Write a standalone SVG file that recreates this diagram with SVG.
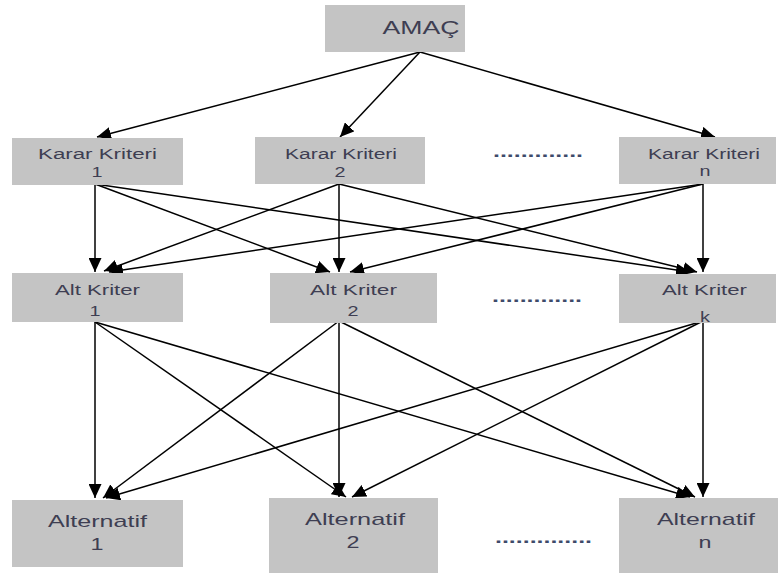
<svg xmlns="http://www.w3.org/2000/svg" width="782" height="579" viewBox="0 0 782 579">
  <style>
    .box { fill: #c4c4c4; }
    .lbl { font-family: "Liberation Sans", Arial, sans-serif; font-size: 15.5px; fill: #3e3e52; text-anchor: middle; }
    .big { font-size: 19px; }
    .alt { font-size: 17px; }
    .dots { font-family: "Liberation Sans", Arial, sans-serif; font-size: 17px; font-weight: bold; fill: #3e4a6a; }
    .edge { stroke: #000; stroke-width: 1.5; fill: none; marker-end: url(#arrow); }
  </style>
  <defs>
    <marker id="arrow" markerUnits="userSpaceOnUse" markerWidth="15" markerHeight="13" refX="14" refY="6.5" orient="auto">
      <path d="M0,0 L14,6.5 L0,13 Z" fill="#000"/>
    </marker>
  </defs>
  <rect width="782" height="579" fill="#fff"/>

  <!-- connectors -->
  <g id="connectors">
    <!-- goal to decision criteria -->
    <line class="edge" x1="420" y1="52" x2="97" y2="137"/>
    <line class="edge" x1="420" y1="52" x2="340" y2="137"/>
    <line class="edge" x1="420" y1="52" x2="715" y2="137"/>
    <!-- decision criteria to sub-criteria -->
    <line class="edge" x1="95" y1="184" x2="95" y2="272"/>
    <line class="edge" x1="95" y1="184" x2="330" y2="272"/>
    <line class="edge" x1="95" y1="184" x2="690" y2="272"/>
    <line class="edge" x1="339" y1="184" x2="104" y2="271"/>
    <line class="edge" x1="339" y1="184" x2="339" y2="272"/>
    <line class="edge" x1="339" y1="184" x2="697" y2="272"/>
    <line class="edge" x1="703" y1="184" x2="109" y2="272"/>
    <line class="edge" x1="703" y1="184" x2="350" y2="272"/>
    <line class="edge" x1="703" y1="184" x2="703" y2="272"/>
    <!-- sub-criteria to alternatives -->
    <line class="edge" x1="95" y1="322" x2="95" y2="498"/>
    <line class="edge" x1="95" y1="322" x2="346" y2="497"/>
    <line class="edge" x1="95" y1="322" x2="690" y2="497"/>
    <line class="edge" x1="339" y1="321" x2="103" y2="498"/>
    <line class="edge" x1="339" y1="321" x2="339" y2="497"/>
    <line class="edge" x1="339" y1="321" x2="695" y2="497"/>
    <line class="edge" x1="703" y1="321" x2="106" y2="498"/>
    <line class="edge" x1="703" y1="321" x2="352" y2="497"/>
    <line class="edge" x1="703" y1="321" x2="703" y2="497"/>
  </g>

  <g id="amac">
    <rect class="box" x="325" y="5" width="140" height="47"/>
    <text class="lbl big" x="421" y="34" textLength="77" lengthAdjust="spacingAndGlyphs">AMAÇ</text>
  </g>

  <g id="karar-kriteri-1">
    <rect class="box" x="12" y="138" width="171" height="47"/>
    <text class="lbl" x="97.5" y="159" textLength="119" lengthAdjust="spacingAndGlyphs">Karar Kriteri</text>
    <text class="lbl" x="97" y="177" textLength="11" lengthAdjust="spacingAndGlyphs">1</text>
  </g>
  <g id="karar-kriteri-2">
    <rect class="box" x="255" y="137" width="170" height="47"/>
    <text class="lbl" x="341" y="159" textLength="112" lengthAdjust="spacingAndGlyphs">Karar Kriteri</text>
    <text class="lbl" x="340" y="177" textLength="11" lengthAdjust="spacingAndGlyphs">2</text>
  </g>
  <g id="karar-kriteri-n">
    <rect class="box" x="619" y="137" width="157" height="47"/>
    <text class="lbl" x="704" y="159" textLength="112" lengthAdjust="spacingAndGlyphs">Karar Kriteri</text>
    <text class="lbl" x="705" y="176" textLength="11" lengthAdjust="spacingAndGlyphs">n</text>
  </g>
  <text class="dots" x="493" y="157" textLength="90" lengthAdjust="spacingAndGlyphs">.............</text>

  <g id="alt-kriter-1">
    <rect class="box" x="12" y="273" width="171" height="49"/>
    <text class="lbl" x="97.5" y="295" textLength="85" lengthAdjust="spacingAndGlyphs">Alt Kriter</text>
    <text class="lbl" x="95" y="316" textLength="11" lengthAdjust="spacingAndGlyphs">1</text>
  </g>
  <g id="alt-kriter-2">
    <rect class="box" x="270" y="273" width="167" height="50"/>
    <text class="lbl" x="353.5" y="295" textLength="87" lengthAdjust="spacingAndGlyphs">Alt Kriter</text>
    <text class="lbl" x="353" y="316" textLength="11" lengthAdjust="spacingAndGlyphs">2</text>
  </g>
  <g id="alt-kriter-k">
    <rect class="box" x="619" y="274" width="157" height="49"/>
    <text class="lbl" x="704.5" y="295" textLength="85" lengthAdjust="spacingAndGlyphs">Alt Kriter</text>
    <text class="lbl" x="705" y="322" textLength="10" lengthAdjust="spacingAndGlyphs">k</text>
  </g>
  <text class="dots" x="492" y="302" textLength="90" lengthAdjust="spacingAndGlyphs">.............</text>

  <g id="alternatif-1">
    <rect class="box" x="12" y="500" width="171" height="67"/>
    <text class="lbl alt" x="97.5" y="527" textLength="99" lengthAdjust="spacingAndGlyphs">Alternatif</text>
    <text class="lbl alt" x="97" y="550" textLength="13" lengthAdjust="spacingAndGlyphs">1</text>
  </g>
  <g id="alternatif-2">
    <rect class="box" x="269" y="498" width="169" height="75"/>
    <text class="lbl alt" x="355" y="525" textLength="100" lengthAdjust="spacingAndGlyphs">Alternatif</text>
    <text class="lbl alt" x="353" y="548" textLength="13" lengthAdjust="spacingAndGlyphs">2</text>
  </g>
  <g id="alternatif-n">
    <rect class="box" x="619" y="498" width="159" height="75"/>
    <text class="lbl alt" x="706" y="525" textLength="98" lengthAdjust="spacingAndGlyphs">Alternatif</text>
    <text class="lbl alt" x="705" y="548" textLength="13" lengthAdjust="spacingAndGlyphs">n</text>
  </g>
  <text class="dots" x="495" y="543" textLength="97" lengthAdjust="spacingAndGlyphs">..............</text>
</svg>
